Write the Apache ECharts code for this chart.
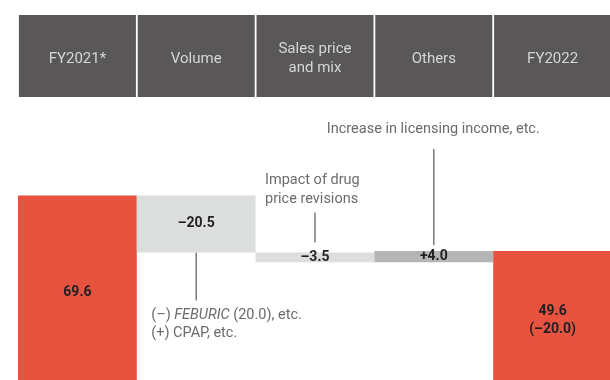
<!DOCTYPE html>
<html>
<head>
<meta charset="utf-8">
<script src="https://cdn.jsdelivr.net/npm/echarts@6/dist/echarts.min.js"></script>
<style>
  html, body { margin: 0; padding: 0; background: #ffffff; }
  #chart { width: 610px; height: 380px; }
</style>
</head>
<body>
<div id="chart"></div>
<script>
// Operating profit bridge, FY2021 -> FY2022 (billions of yen)
const categories = ['FY2021*', 'Volume', 'Sales price\nand mix', 'Others', 'FY2022'];
const startTotal = 69.6;
const changes = [-20.5, -3.5, 4.0];
const endTotal = 49.6;
const endDiff = -20.0;

const barColors = ['#E8533F', '#DCDDDD', '#DCDDDD', '#B5B5B5', '#E8533F'];
const FONT = "Roboto, sans-serif";

// Waterfall: an invisible spacer stacked under each visible step
const spacer = [0];
const step = [startTotal];
let running = startTotal;
changes.forEach(c => {
  const next = running + c;
  spacer.push(Math.min(running, next));
  step.push(Math.abs(c));
  running = next;
});
spacer.push(0);
step.push(endTotal);

const signed = v => (v < 0 ? '\u2013' : '+') + Math.abs(v).toFixed(1);
const stepLabel = i => {
  if (i === 0) return startTotal.toFixed(1);
  if (i === categories.length - 1) return endTotal.toFixed(1) + '\n(' + signed(endDiff) + ')';
  return signed(changes[i - 1]);
};

// Header cells: 82px tall dark boxes sitting on the plot area,
// text lifted off the box bottom so it sits in the middle
const HEADER_H = 82;
const LINE_H = 19;
const headerItems = categories.map(name => {
  const lines = name.split('\n').length;
  const padBottom = (HEADER_H - lines * LINE_H) / 2 - 3;
  return { value: name, textStyle: { padding: [0, 0, padBottom, 0], height: HEADER_H - padBottom } };
});

const chart = echarts.init(document.getElementById('chart'), null, { renderer: 'canvas' });

chart.setOption({
  animation: false,
  backgroundColor: '#ffffff',
  grid: { left: 18, right: -2, top: 97, bottom: -9, outerBoundsMode: 'none', containLabel: false },
  xAxis: {
    type: 'category',
    data: headerItems,
    position: 'top',
    axisLine: { show: false },
    axisTick: { show: false },
    axisLabel: {
      interval: 0,
      margin: 0,
      width: 117,
      backgroundColor: '#5A5758',
      color: '#D6D6D6',
      fontFamily: FONT,
      fontSize: 15,
      lineHeight: LINE_H,
      align: 'center',
      verticalAlign: 'bottom',
      overflow: 'none'
    }
  },
  yAxis: {
    type: 'value',
    min: 0,
    max: 105,
    show: false,
    splitLine: { show: false }
  },
  series: [
    {
      type: 'bar',
      stack: 'bridge',
      data: spacer,
      itemStyle: { color: 'transparent' },
      barCategoryGap: '0%',
      silent: true
    },
    {
      type: 'bar',
      stack: 'bridge',
      barCategoryGap: '0%',
      data: step.map((v, i) => ({ value: v, itemStyle: { color: barColors[i] } })),
      label: {
        show: true,
        position: 'inside',
        formatter: p => stepLabel(p.dataIndex),
        color: '#231F20',
        fontFamily: FONT,
        fontWeight: 'bold',
        fontSize: 14,
        lineHeight: 18
      }
    }
  ]
});

// Call-outs tied to the bars they describe
const px = (i, v) => chart.convertToPixel({ xAxisIndex: 0, yAxisIndex: 0 }, [i, v]);
const lineStyle = { stroke: '#7A7A7A', lineWidth: 1.5 };
const noteFont = "14.5px " + FONT;
const noteStyle = { fill: '#6B6B6B', font: noteFont };

const volBottom = px(1, spacer[1]);
const priceTop = px(2, spacer[2] + step[2]);
const othersTop = px(3, spacer[3] + step[3]);

chart.setOption({
  graphic: [
    { type: 'line', shape: { x1: volBottom[0], y1: volBottom[1], x2: volBottom[0], y2: volBottom[1] + 48 }, style: lineStyle },
    {
      type: 'text', x: volBottom[0] - 45, y: volBottom[1] + 54,
      style: {
        text: '(\u2013) {i|FEBURIC} (20.0), etc.\n(+) CPAP, etc.',
        fill: '#6B6B6B', font: noteFont, lineHeight: 18,
        rich: { i: { fontStyle: 'italic', fill: '#6B6B6B', fontFamily: FONT, fontSize: 14.5 } }
      }
    },
    { type: 'line', shape: { x1: priceTop[0], y1: priceTop[1] - 10, x2: priceTop[0], y2: priceTop[1] - 40 }, style: lineStyle },
    {
      type: 'text', x: priceTop[0] - 50, y: priceTop[1] - 82,
      style: Object.assign({ text: 'Impact of drug\nprice revisions', lineHeight: 19 }, noteStyle)
    },
    { type: 'line', shape: { x1: othersTop[0], y1: othersTop[1] - 6, x2: othersTop[0], y2: othersTop[1] - 102 }, style: lineStyle },
    {
      type: 'text', x: othersTop[0] - 107, y: othersTop[1] - 131,
      style: Object.assign({ text: 'Increase in licensing income, etc.', lineHeight: 19 }, noteStyle)
    }
  ]
});
</script>
</body>
</html>
